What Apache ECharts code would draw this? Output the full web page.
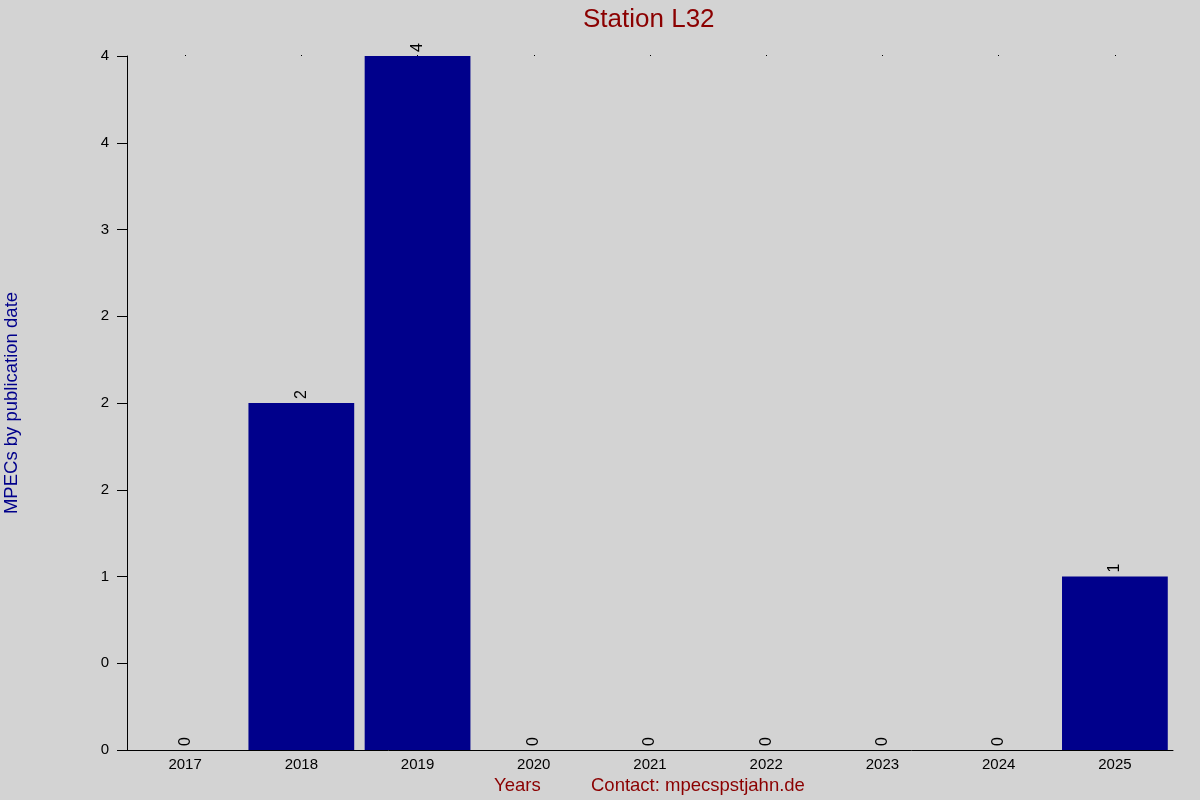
<!DOCTYPE html>
<html>
<head>
<meta charset="utf-8">
<script src="https://cdn.jsdelivr.net/npm/echarts@6/dist/echarts.min.js"></script>
<style>
  html, body { margin: 0; padding: 0; background: #d3d3d3; }
  #chart { width: 1200px; height: 800px; }
</style>
</head>
<body>
<div id="chart"></div>
<script>
// data
const years = ['2017', '2018', '2019', '2020', '2021', '2022', '2023', '2024', '2025'];
const counts = [0, 2, 4, 0, 0, 0, 0, 0, 1];
// y tick labels as shown (rounded half-steps)
const yTickLabels = ['0', '0', '1', '2', '2', '2', '3', '4', '4'];

const chart = echarts.init(document.getElementById('chart'));
const font = 'Liberation Sans, Arial, sans-serif';

const option = {
    backgroundColor: '#d3d3d3',
    animation: false,
    title: {
        text: 'Station L32',
        left: 583,
        top: 7,
        padding: 0,
        textStyle: { color: '#8b0000', fontSize: 26, fontWeight: 'normal', fontFamily: font }
    },
    grid: { left: 127, right: 27, top: 56, bottom: 50, containLabel: false, outerBoundsMode: 'none' },
    graphic: [
        {
            type: 'text', left: 494, top: 776,
            style: { text: 'Years', fill: '#8b0000', font: '18.5px ' + font }
        },
        {
            type: 'text', left: 591, top: 776,
            style: { text: 'Contact: mpecspstjahn.de', fill: '#8b0000', font: '18.5px ' + font }
        }
    ],
    xAxis: [
        {
            type: 'category',
            data: years,
            axisLine: { lineStyle: { color: '#000', width: 1 } },
            axisTick: { show: false },
            axisLabel: { color: '#000', fontSize: 15, fontFamily: font, margin: 7 }
        },
        {
            type: 'category',
            data: years,
            position: 'top',
            axisLine: { show: false },
            axisTick: { show: true, alignWithLabel: true, length: 1, lineStyle: { color: '#000' } },
            axisLabel: { show: false }
        }
    ],
    yAxis: {
        type: 'value',
        min: 0,
        max: 4,
        interval: 0.5,
        name: 'MPECs by publication date',
        nameLocation: 'middle',
        nameGap: 106,
        nameTextStyle: { color: '#00008b', fontSize: 18.5, fontFamily: font },
        axisLine: { show: true, lineStyle: { color: '#000', width: 1 } },
        axisTick: { show: true, length: 10, lineStyle: { color: '#000' } },
        splitLine: { show: false },
        axisLabel: {
            color: '#000', fontSize: 15, fontFamily: font, margin: 18,
            formatter: (v) => yTickLabels[Math.round(v / 0.5)]
        }
    },
    series: [
        {
            type: 'bar',
            data: counts,
            barCategoryGap: '9%',
            itemStyle: { color: '#00008b' },
            label: {
                show: true,
                position: 'top',
                rotate: 90,
                align: 'left',
                verticalAlign: 'middle',
                distance: 4,
                color: '#000',
                fontSize: 16,
                fontFamily: font
            }
        }
    ]
};

chart.setOption(option);
</script>
</body>
</html>
